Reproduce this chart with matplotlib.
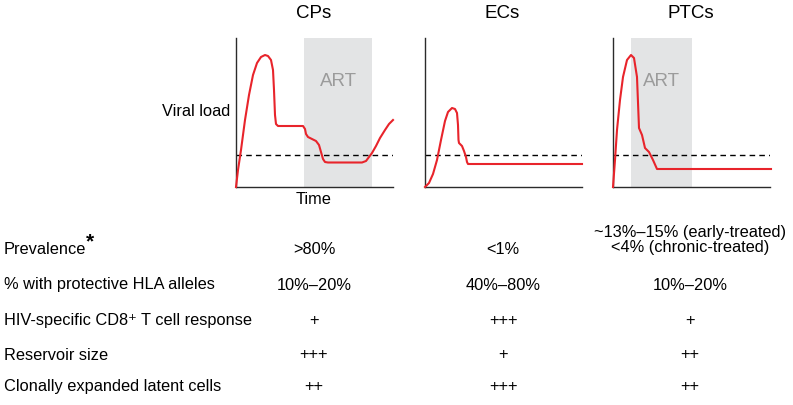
import matplotlib.pyplot as plt

plt.rcParams.update({
    "font.family": ["Liberation Sans", "DejaVu Sans"],
    "font.size": 11.8,
})

W, H = 793, 405
RED = "#E8242B"
ART_FILL = "#E3E4E5"
ART_TEXT = "#9B9B9B"
AXIS_COLOR = "#2B2B2B"

# schematic curves: (time, viral load) in panel units (0-157 x 0-149)
CP_TIME = [0, 2, 5, 9, 13, 17, 21, 25, 29, 32, 35, 37, 38, 39, 40, 42, 67, 69, 70, 72,
           76, 80, 83, 85, 87, 89, 92, 126, 130, 133, 136, 140, 144, 149, 153, 157]
CP_LOAD = [0, 17, 37, 67, 92, 112, 124, 130, 132, 131, 127, 117, 97, 72, 63, 61, 61, 58, 53, 50,
           48, 46, 42, 35, 28, 25, 24.5, 24.5, 26, 30, 34, 41, 49, 57, 63, 67]

EC_TIME = [0, 4, 8, 12, 16, 20, 23, 27, 30, 32, 33, 33.5, 34, 37, 39, 41, 42, 43, 157]
EC_LOAD = [0, 4, 13, 27, 47, 66, 75, 79, 78, 74, 62, 47, 44, 41, 36, 30, 25, 23, 23]

PTC_TIME = [0, 2, 4, 7, 10, 14, 18, 21, 24, 26, 29, 32, 36, 40, 44, 158]
PTC_LOAD = [0, 27, 57, 87, 110, 127, 132, 129, 110, 59, 52, 39, 35, 27, 18, 18]

THRESHOLD = 32
PANELS = ["CPs", "ECs", "PTCs"]
PANEL_LEFT = [236, 425, 613]
ART_SPANS = [(68, 136), None, (18, 79)]
CURVES = [(CP_TIME, CP_LOAD), (EC_TIME, EC_LOAD), (PTC_TIME, PTC_LOAD)]

ROW_LABELS = [
    "Prevalence",
    "% with protective HLA alleles",
    "HIV-specific CD8⁺ T cell response",
    "Reservoir size",
    "Clonally expanded latent cells",
]
CP_VALUES = [">80%", "10%–20%", "+", "+++", "++"]
EC_VALUES = ["<1%", "40%–80%", "+++", "+", "+++"]
PTC_VALUES = ["~13%–15% (early-treated)\n<4% (chronic-treated)", "10%–20%", "+", "++", "++"]
ROW_Y = [249, 285, 320, 355, 387]
COL_X = [314, 503, 690]

fig = plt.figure(figsize=(W / 100, H / 100), dpi=100)

top, bottom = 38, 187
pw = 157
for name, left, span, (t, v) in zip(PANELS, PANEL_LEFT, ART_SPANS, CURVES):
    ax = fig.add_axes([left / W, 1 - bottom / H, pw / W, (bottom - top) / H])
    ax.set_xlim(0, pw)
    ax.set_ylim(0, bottom - top)
    if span is not None:
        ax.axvspan(span[0], span[1], color=ART_FILL, lw=0, zorder=0)
        ax.text((span[0] + span[1]) / 2, 106, "ART", color=ART_TEXT, fontsize=13.5,
                ha="center", va="center")
    ax.axhline(THRESHOLD, color="black", lw=1.0, ls=(0, (4, 3)), zorder=2)
    ax.plot(t, v, color=RED, lw=1.5, solid_joinstyle="round", clip_on=False, zorder=3)
    for s in ["top", "right"]:
        ax.spines[s].set_visible(False)
    for s in ["left", "bottom"]:
        ax.spines[s].set_color(AXIS_COLOR)
        ax.spines[s].set_linewidth(1.0)
    ax.set_xticks([])
    ax.set_yticks([])
    ax.patch.set_alpha(0)
    fig.text((left + pw / 2 - 1) / W, 1 - 13 / H, name, ha="center", va="center", fontsize=13.5)

fig.text(230 / W, 1 - 112 / H, "Viral load", ha="right", va="center")
fig.text(314 / W, 1 - 200 / H, "Time", ha="center", va="center")

for label, y in zip(ROW_LABELS, ROW_Y):
    fig.text(4 / W, 1 - y / H, label, ha="left", va="center")
fig.text(86 / W, 1 - 242 / H, "*", ha="left", va="center", fontsize=15, fontweight="bold")

for col_x, values in zip(COL_X, [CP_VALUES, EC_VALUES, PTC_VALUES]):
    for val, y in zip(values, ROW_Y):
        yy = y - 9 if "\n" in val else y
        fig.text(col_x / W, 1 - yy / H, val, ha="center", va="center", linespacing=1.0)

fig.savefig("out.png", dpi=100)
